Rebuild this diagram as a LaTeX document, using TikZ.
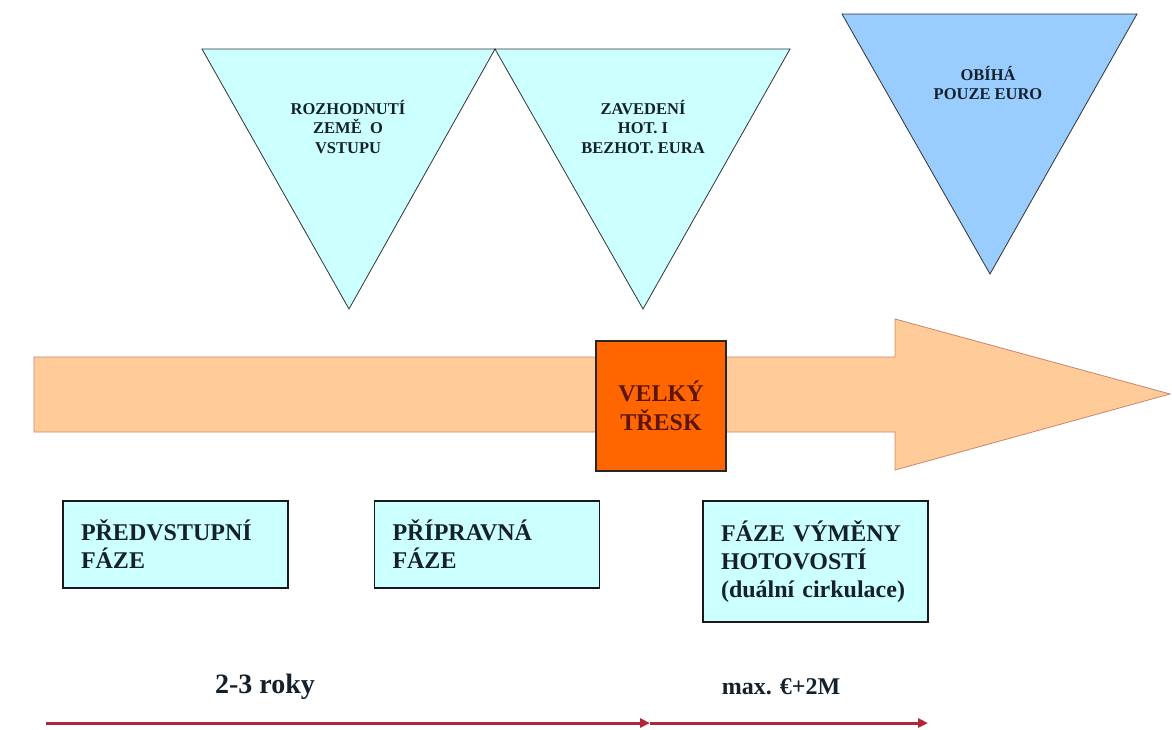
\documentclass[tikz,border=0pt]{standalone}
\usepackage{fontspec}
\setmainfont{Liberation Serif}[BoldFont={Liberation Serif Bold}]
\usetikzlibrary{arrows.meta}
\definecolor{lcyan}{HTML}{CCFFFF}\definecolor{lblue}{HTML}{99CCFF}
\definecolor{peach}{HTML}{FFCC99}\definecolor{peachline}{HTML}{C8866A}
\definecolor{bang}{HTML}{FF6600}\definecolor{bangtext}{HTML}{5E1508}
\definecolor{ink}{HTML}{14212B}\definecolor{redline}{HTML}{B3263A}
\begin{document}
\begin{tikzpicture}[x=1pt,y=-1pt,
 tri/.style={draw=black!80,line width=0.8pt,fill=lcyan},
 tritext/.style={align=center,text=ink,font=\rmfamily\bfseries\fontsize{16.5}{19.5}\selectfont},
 phase/.style={draw=black!90,line width=1.2pt,fill=lcyan,text=ink,align=left,inner xsep=18pt,text width=189pt,minimum height=87pt,font=\rmfamily\bfseries\fontsize{24}{28}\selectfont},
 span/.style={redline,line width=3pt,-{Triangle[length=10pt,width=9pt]}}]
\useasboundingbox (0,0) rectangle (1172,729);
\draw[tri] (202,49)--(495,49)--(349,309)--cycle;\draw[tri] (495,49)--(790,49)--(643,309)--cycle;
\draw[tri,fill=lblue] (842,14)--(1137,14)--(990,274)--cycle;
\node[tritext] (decide) at (348,127){ROZHODNUTÍ\\ZEMĚ\ \ O\\VSTUPU};
\node[tritext] (intro) at (643,127){ZAVEDENÍ\\HOT. I\\BEZHOT. EURA};
\node[tritext] (euro) at (988,83){OBÍHÁ\\POUZE EURO};
\draw[fill=peach,draw=peachline,line width=0.8pt] (34,357)--(895,357)--(895,319)--(1170,394)--(895,470)--(895,432)--(34,432)--cycle;
\node[draw=black!85,line width=1.2pt,fill=bang,minimum width=130pt,minimum height=130pt,text=bangtext,align=center,font=\rmfamily\bfseries\fontsize{24}{29}\selectfont] (bang) at (661,406){VELKÝ\\TŘESK};
\node[phase] (pre) at (175.5,544.5){PŘEDVSTUPNÍ\\FÁZE};
\node[phase] (prep) at (487,544.5){PŘÍPRAVNÁ\\FÁZE};
\node[phase,minimum height=121pt] (cash) at (815.5,561.5){FÁZE VÝMĚNY\\HOTOVOSTÍ\\(duální cirkulace)};
\node[text=ink,font=\rmfamily\bfseries\fontsize{28}{32}\selectfont] (years) at (265,687){2-3 roky};
\node[text=ink,font=\rmfamily\bfseries\fontsize{24}{28}\selectfont] (months) at (781,687){max. €+2M};
\coordinate (s0) at (46,723);\coordinate (s1) at (650,723);\coordinate (s2) at (928,723);
\draw[span] (s0)--(s1);\draw[span] (s1)--(s2);
\end{tikzpicture}
\end{document}
